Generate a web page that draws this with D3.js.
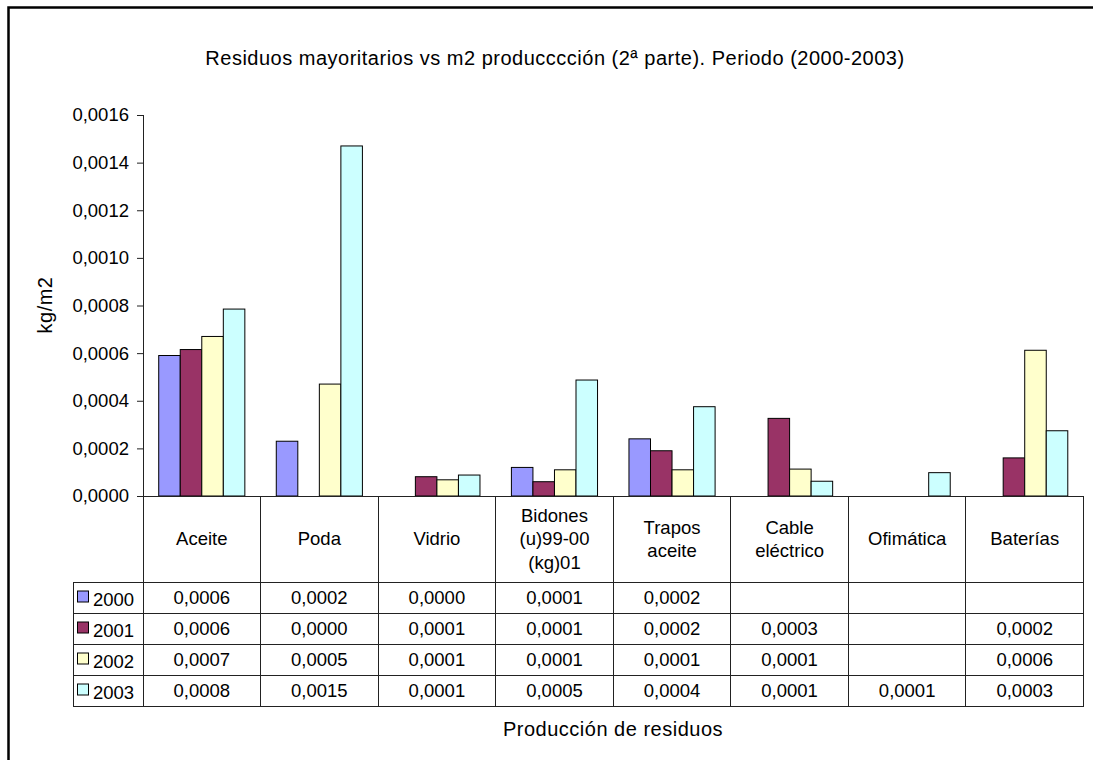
<!DOCTYPE html>
<html>
<head>
<meta charset="utf-8">
<script src="https://d3js.org/d3.v7.min.js"></script>
<style>
  body { margin: 0; background: #fff; }
  text { font-family: "Liberation Sans", Arial, sans-serif; fill: #000; }
</style>
</head>
<body>
<svg width="1093" height="760"></svg>
<script>
// data
var categories = ["Aceite", "Poda", "Vidrio", "Bidones\n(u)99-00\n(kg)01", "Trapos\naceite", "Cable\neléctrico", "Ofimática", "Baterías"];
var years = ["2000", "2001", "2002", "2003"];
var v2000 = [0.00059, 0.00023, 0, 0.00012, 0.00024, null, null, null];
var v2001 = [0.000615, 0, 0.000081, 0.00006, 0.00019, 0.000326, null, 0.00016];
var v2002 = [0.00067, 0.00047, 0.000068, 0.00011, 0.00011, 0.000113, null, 0.000612];
var v2003 = [0.000785, 0.00147, 0.000088, 0.000487, 0.000375, 0.000062, 0.000098, 0.000274];
var yTicks = [0, 0.0002, 0.0004, 0.0006, 0.0008, 0.0010, 0.0012, 0.0014, 0.0016];
var colors = ["#9999ff", "#993366", "#ffffcc", "#ccffff"];

var series = [v2000, v2001, v2002, v2003];
var fmt = function(v) { return d3.format(".4f")(v).replace(".", ","); };

var svg = d3.select("svg");
var fs = 18.5;      // ticks and table
var fsTitle = 20;   // titles
var lineCol = "#222";

var plotLeft = 143, plotRight = 1083.5, plotTop = 115, base = 496;
var rowH = 31, headBottom = 582, tableBottom = headBottom + rowH * 4;
var legLeft = 73;

// outer frame (only left and top show)
svg.append("rect")
    .attr("x", 8.5).attr("y", 7.5)
    .attr("width", 1200).attr("height", 900)
    .attr("fill", "none").attr("stroke", "#000").attr("stroke-width", 2.5);

var x = d3.scaleBand().domain(categories).range([plotLeft, plotRight]).paddingInner(0).paddingOuter(0);
var x1 = d3.scaleBand().domain(years).range([0, x.bandwidth()]).paddingInner(0).paddingOuter(0.73);
var y = d3.scaleLinear().domain([0, 0.0016]).range([base, plotTop]);

// title
svg.append("text")
    .attr("x", 555).attr("y", 65)
    .attr("text-anchor", "middle")
    .style("font-size", fsTitle + "px")
    .style("letter-spacing", "0.5px")
    .text("Residuos mayoritarios vs m2 producccción (2ª parte). Periodo (2000-2003)");

// y axis
var yAxis = svg.append("g")
    .attr("transform", "translate(" + plotLeft + ",0)")
    .call(d3.axisLeft(y).tickValues(yTicks).tickFormat(fmt).tickSize(6).tickSizeOuter(0).tickPadding(8));
yAxis.select(".domain").remove();
yAxis.selectAll(".tick line").attr("stroke", lineCol);
yAxis.selectAll(".tick text").style("font-size", fs + "px").style("font-family", "Liberation Sans, Arial, sans-serif");

svg.append("text")
    .attr("transform", "translate(52,305) rotate(-90)")
    .attr("text-anchor", "middle")
    .style("font-size", fsTitle + "px")
    .style("letter-spacing", "0.5px")
    .text("kg/m2");

// bars
var flat = [];
series.forEach(function(s, si) {
  s.forEach(function(v, ci) {
    if (v !== null && v > 0) flat.push({ cat: categories[ci], year: years[si], v: v, si: si });
  });
});

svg.append("g").selectAll("rect")
  .data(flat)
  .enter().append("rect")
    .attr("x", function(d) { return x(d.cat) + x1(d.year); })
    .attr("y", function(d) { return y(d.v); })
    .attr("width", x1.bandwidth())
    .attr("height", function(d) { return base - y(d.v); })
    .attr("fill", function(d) { return colors[d.si]; })
    .attr("stroke", "#000")
    .attr("stroke-width", 1);

// table grid
var grid = svg.append("g").attr("stroke", lineCol).attr("stroke-width", 1).attr("shape-rendering", "crispEdges");
grid.append("line").attr("x1", plotLeft).attr("x2", plotLeft).attr("y1", plotTop).attr("y2", tableBottom);
grid.append("line").attr("x1", plotLeft - 6).attr("x2", plotRight).attr("y1", base).attr("y2", base);
grid.append("line").attr("x1", legLeft).attr("x2", legLeft).attr("y1", headBottom).attr("y2", tableBottom);
d3.range(5).forEach(function(i) {
  grid.append("line").attr("x1", legLeft).attr("x2", plotRight)
      .attr("y1", headBottom + i * rowH).attr("y2", headBottom + i * rowH);
});
categories.forEach(function(c) {
  grid.append("line").attr("x1", x(c) + x.bandwidth()).attr("x2", x(c) + x.bandwidth())
      .attr("y1", base).attr("y2", tableBottom);
});

// header labels
var lh = 23.5;
categories.forEach(function(c) {
  var lines = c.split("\n");
  var cx = x(c) + x.bandwidth() / 2;
  var cy = (base + headBottom) / 2;
  var t = svg.append("text").attr("text-anchor", "middle").style("font-size", fs + "px");
  lines.forEach(function(l, i) {
    t.append("tspan")
      .attr("x", cx)
      .attr("y", cy + (i - (lines.length - 1) / 2) * lh)
      .attr("dy", "0.35em")
      .text(l);
  });
});

// table values and legend keys
series.forEach(function(s, si) {
  var cy = headBottom + si * rowH + rowH / 2;
  svg.append("rect")
      .attr("x", 77.5).attr("y", cy - 6.5)
      .attr("width", 11).attr("height", 11)
      .attr("fill", colors[si]).attr("stroke", "#000").attr("stroke-width", 1);
  svg.append("text")
      .attr("x", 93).attr("y", cy + 2).attr("dy", "0.35em")
      .style("font-size", fs + "px")
      .text(years[si]);
  s.forEach(function(v, ci) {
    if (v === null) return;
    svg.append("text")
        .attr("x", x(categories[ci]) + x.bandwidth() / 2)
        .attr("y", cy).attr("dy", "0.35em")
        .attr("text-anchor", "middle")
        .style("font-size", fs + "px")
        .text(fmt(v));
  });
});

svg.append("text")
    .attr("x", 613).attr("y", 736)
    .attr("text-anchor", "middle")
    .style("font-size", fsTitle + "px")
    .style("letter-spacing", "0.5px")
    .text("Producción de residuos");
</script>
</body>
</html>
